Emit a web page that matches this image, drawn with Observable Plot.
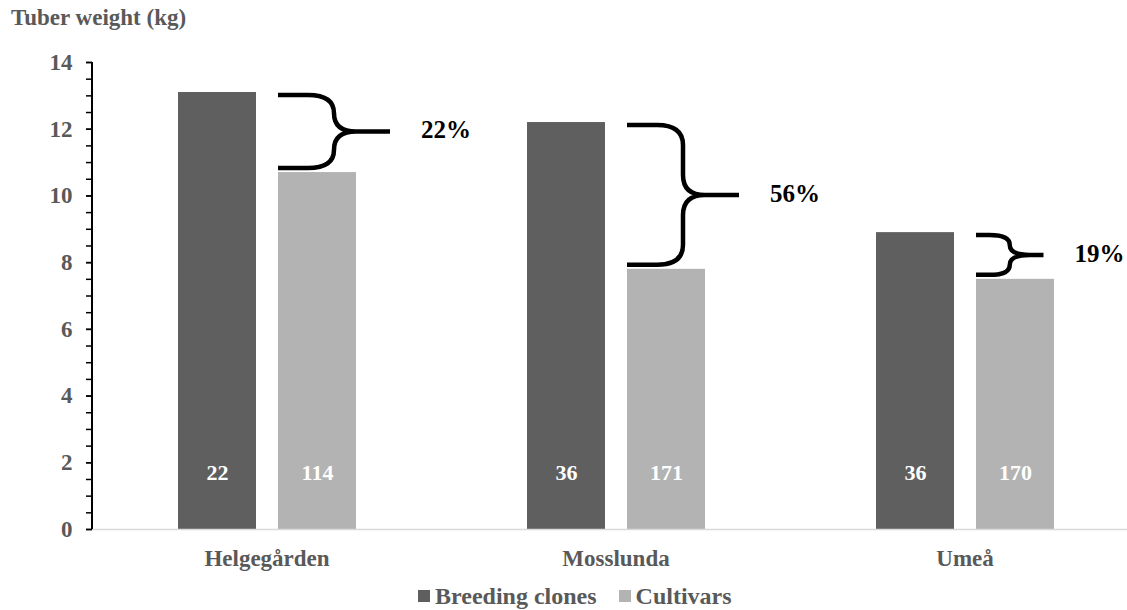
<!DOCTYPE html>
<html>
<head>
<meta charset="utf-8">
<script src="https://cdn.jsdelivr.net/npm/d3@7"></script>
<script src="https://cdn.jsdelivr.net/npm/@observablehq/plot@0.6"></script>
<style>
  html, body { margin: 0; padding: 0; background: white; }
  #wrap { position: relative; width: 1127px; height: 610px; overflow: hidden; font-family: 'Liberation Serif', 'Times New Roman', serif; }
  #title { position: absolute; left: 11px; top: 4px; font-size: 23px; font-weight: bold; color: #595959; line-height: 28px; white-space: nowrap; }
  #chart { position: absolute; left: 0; top: 0; }
  #legend { position: absolute; left: 418px; top: 582px; font-size: 24px; font-weight: bold; color: #595959; line-height: 28px; white-space: nowrap; }
  #legend .sw { display: inline-block; width: 12px; height: 12px; vertical-align: middle; margin-right: 5px; position: relative; top: -2px; }
  #legend .item { margin-right: 22px; }
</style>
</head>
<body>
<div id="wrap">
  <div id="chart"></div>
  <div id="title">Tuber weight (kg)</div>
  <div id="legend"></div>
</div>
<script>
// ---- data ----
const locations = ["Helgegården", "Mosslunda", "Umeå"];
const series = ["Breeding clones", "Cultivars"];
const breedingValues = [13.1, 12.2, 8.9];
const cultivarValues = [10.7, 7.8, 7.5];
const breedingN = [22, 36, 36];
const cultivarN = [114, 171, 170];
const diffLabels = ["22%", "56%", "19%"];
const majorTicks = [0, 2, 4, 6, 8, 10, 12, 14];
const minorTicks = d3.range(0, 14.25, 0.5);
const colors = ["#5f5f5f", "#b3b3b3"];

const rows = [];
locations.forEach((loc, i) => {
  rows.push({location: loc, series: series[0], value: breedingValues[i], n: breedingN[i]});
  rows.push({location: loc, series: series[1], value: cultivarValues[i], n: cultivarN[i]});
});

const font = "'Liberation Serif', 'Times New Roman', serif";

const chart = Plot.plot({
  width: 1127,
  height: 575,
  marginLeft: 92,
  marginRight: -12,
  marginTop: 62,
  marginBottom: 46,
  style: {fontFamily: font, background: "transparent", overflow: "visible"},
  fx: {domain: locations, padding: 0, label: null},
  x: {domain: series, paddingInner: 0.22, paddingOuter: 0.84, axis: null},
  y: {domain: [0, 14], label: null},
  color: {domain: series, range: colors},
  marks: [
    Plot.barY(rows, {fx: "location", x: "series", y: "value", fill: "series"}),
    Plot.ruleY([0], {stroke: "#d9d9d9", strokeWidth: 1.3}),
    Plot.text(rows, {fx: "location", x: "series", text: "n", frameAnchor: "bottom", dy: -57, lineAnchor: "middle", fill: "white", fontSize: 22, fontWeight: "bold"}),
    Plot.axisY({ticks: minorTicks, tickSize: 6, tickFormat: () => "", stroke: "black", strokeWidth: 1.5, label: null}),
    Plot.axisY({ticks: majorTicks, tickSize: 6, tickPadding: 14, fontSize: 23, fontWeight: "bold", fill: "#595959", stroke: "black", strokeWidth: 1.5, label: null}),
    Plot.axisFx({anchor: "bottom", tickSize: 0, tickPadding: 20, fontSize: 23, fontWeight: "bold", fill: "#595959", label: null})
  ]
});
document.getElementById("chart").appendChild(chart);

// ---- braces drawn from data through the plot's scales ----
function bandOf(s) {
  if (s.apply) return v => s.apply(v);
  return d3.scaleBand(s.domain, s.range).paddingInner(s.paddingInner).paddingOuter(s.paddingOuter).align(s.align ?? 0.5);
}
const ys = chart.scale("y");
const Y = ys.apply ? v => ys.apply(v) : d3.scaleLinear(ys.domain, ys.range);
const fxs = chart.scale("fx");
const xs = chart.scale("x");
const FX = bandOf(fxs);
const X = bandOf(xs);
const xStart = Math.min(xs.range[0], xs.range[1]);
// pixel position of a bar's left edge: facet band start + offset inside the facet
const barLeft = (loc, s) => FX(loc) + (X(s) - xStart);

const svg = d3.select(chart);
const g = svg.append("g");

// y axis line
g.append("line")
  .attr("x1", fxs.range[0]).attr("x2", fxs.range[0])
  .attr("y1", Y(0)).attr("y2", Y(14))
  .attr("stroke", "black").attr("stroke-width", 2);

locations.forEach((loc, i) => {
  const x0 = barLeft(loc, series[1]);
  const yT = Y(breedingValues[i]) + 3;
  const yB = Y(cultivarValues[i]) - 4;
  const h = yB - yT;
  const ym = (yT + yB) / 2;
  const w = Math.min(56, h * 0.85);
  const xv = x0 + w;
  const xtip = xv + w;
  const rx = Math.min(26, w * 0.6);
  const ry = Math.min(20, h / 4);
  const rx2 = Math.min(22, w * 0.6);
  const p = d3.path();
  p.moveTo(x0, yT);
  p.lineTo(xv - rx, yT);
  p.quadraticCurveTo(xv, yT, xv, yT + ry);
  p.lineTo(xv, ym - ry);
  p.quadraticCurveTo(xv, ym, xv + rx2, ym);
  p.lineTo(xtip, ym);
  p.moveTo(xv + rx2, ym);
  p.quadraticCurveTo(xv, ym, xv, ym + ry);
  p.lineTo(xv, yB - ry);
  p.quadraticCurveTo(xv, yB, xv - rx, yB);
  p.lineTo(x0, yB);
  g.append("path").attr("d", p.toString())
    .attr("fill", "none").attr("stroke", "black").attr("stroke-width", 4.5)
    .attr("stroke-linejoin", "round").attr("stroke-linecap", "butt");
  g.append("text")
    .attr("x", xtip + 31).attr("y", ym + 1)
    .attr("text-anchor", "start")
    .attr("dominant-baseline", "middle")
    .attr("font-family", font).attr("font-size", 25).attr("font-weight", "bold")
    .attr("fill", "black")
    .text(diffLabels[i]);
});

// ---- legend ----
const legend = document.getElementById("legend");
series.forEach((s, i) => {
  const item = document.createElement("span");
  item.className = "item";
  const sw = document.createElement("span");
  sw.className = "sw";
  sw.style.background = colors[i];
  item.appendChild(sw);
  item.appendChild(document.createTextNode(s));
  legend.appendChild(item);
});
</script>
</body>
</html>
